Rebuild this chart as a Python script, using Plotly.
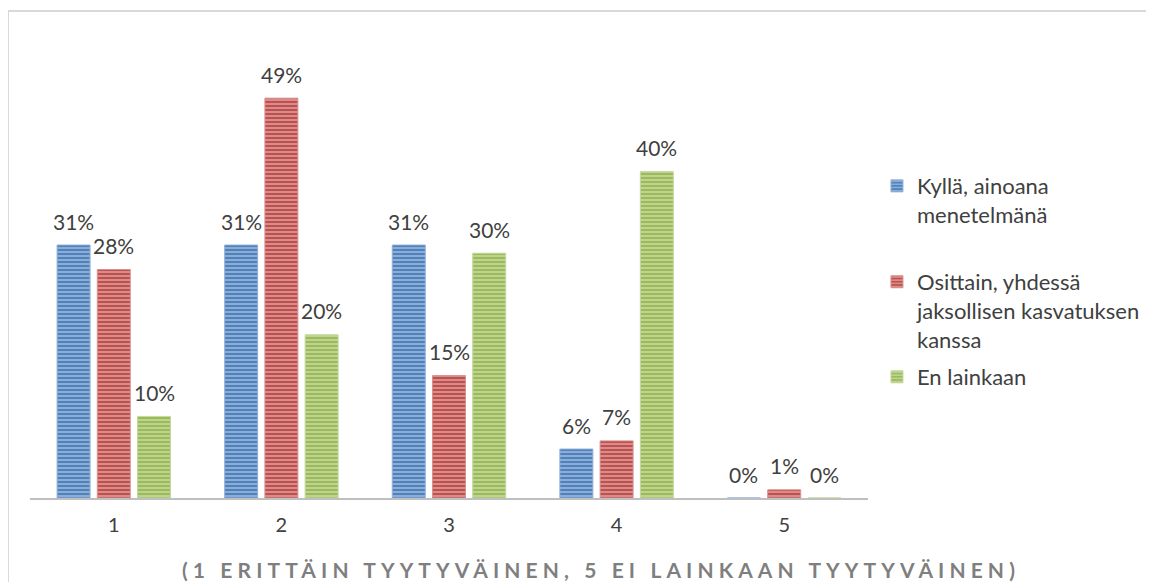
import plotly.graph_objects as go

categories = ["1", "2", "3", "4", "5"]
kylla = [0.31, 0.31, 0.31, 0.06, 0.00]
osittain = [0.28, 0.49, 0.15, 0.07, 0.01]
ei = [0.10, 0.20, 0.30, 0.40, 0.00]
series_names = ["Kyllä, ainoana<br>menetelmänä",
                "Osittain, yhdessä<br>jaksollisen kasvatuksen<br>kanssa",
                "En lainkaan"]
colors = ["#4F81BD", "#C0504D", "#9BBB59"]
line_colors = ["#8FB0DA", "#DA8F8D", "#C3D99A"]
x_title = "(1 ERITTÄIN TYYTYVÄINEN, 5 EI LAINKAAN TYYTYVÄINEN)"

FONT = "Lato, 'Open Sans', sans-serif"
TXT = "#404040"

# plot area in page pixels (page is offset by 8px body margin)
L, R, T, B = 22, 294, 82, 92
PW = 1154 - L - R
PH = 582 - T - B
SLOT = 40.25  # px per bar slot

legend_names = ["legend", "legend2", "legend3"]
legend_y = [0.816, 0.581, 0.348]

fig = go.Figure()
all_vals = [kylla, osittain, ei]
for i, (name, vals) in enumerate(zip(series_names, all_vals)):
    fig.add_trace(go.Bar(
        x=categories, y=vals, name=name,
        legend=legend_names[i],
        marker=dict(
            color=colors[i],
            line=dict(color=line_colors[i], width=1),
            pattern=dict(shape="-", fgcolor="white", fgopacity=0.5,
                         size=4, solidity=0.35),
        ),
    ))
    for j, v in enumerate(vals):
        fig.add_annotation(x=j, y=v, xref="x", yref="y",
                           text=f"{round(v*100)}%", showarrow=False,
                           xshift=(i - 1) * SLOT, yshift=24,
                           yanchor="middle", xanchor="center",
                           font=dict(family=FONT, size=21, color=TXT))

leg_common = dict(x=1.0107, xanchor="left", yanchor="top", valign="top",
                  font=dict(family=FONT, size=22, color=TXT),
                  itemwidth=30, bgcolor="rgba(0,0,0,0)")

fig.update_layout(
    width=1154, height=582,
    paper_bgcolor="white", plot_bgcolor="white",
    margin=dict(l=L, r=R, t=T, b=B),
    barmode="group", bargap=0.28, bargroupgap=0.18,
    font=dict(family=FONT, color=TXT),
    showlegend=True,
    legend=dict(y=legend_y[0], **leg_common),
    legend2=dict(y=legend_y[1], **leg_common),
    legend3=dict(y=legend_y[2], **leg_common),
    xaxis=dict(type="category", range=[-0.5, 4.5], autorange=False,
               showgrid=False, showline=True, linecolor="#BFBFBF", linewidth=2,
               ticks="", tickfont=dict(family=FONT, size=20, color=TXT),
               ticklabelstandoff=8),
    yaxis=dict(range=[0, 0.5], autorange=False, visible=False,
               showgrid=False, zeroline=False),
)

fig.add_annotation(xref="paper", yref="paper",
                   x=(601 - 8 - L) / PW, y=(PH - (569 - 8 - T)) / PH,
                   xanchor="center", yanchor="middle", showarrow=False,
                   text=f'<b><span style="letter-spacing:5.1px">{x_title}</span></b>',
                   font=dict(family=FONT, size=21, color="#7F7F7F"))

# outer chart border
fig.add_shape(type="rect", xref="paper", yref="paper",
              x0=(0 - L) / PW, x1=(1200 - L) / PW,
              y0=(PH - 620) / PH, y1=(PH - (3 - T)) / PH,
              line=dict(color="#D9D9D9", width=2), fillcolor="rgba(0,0,0,0)",
              layer="below")

fig.write_html("out.html")
